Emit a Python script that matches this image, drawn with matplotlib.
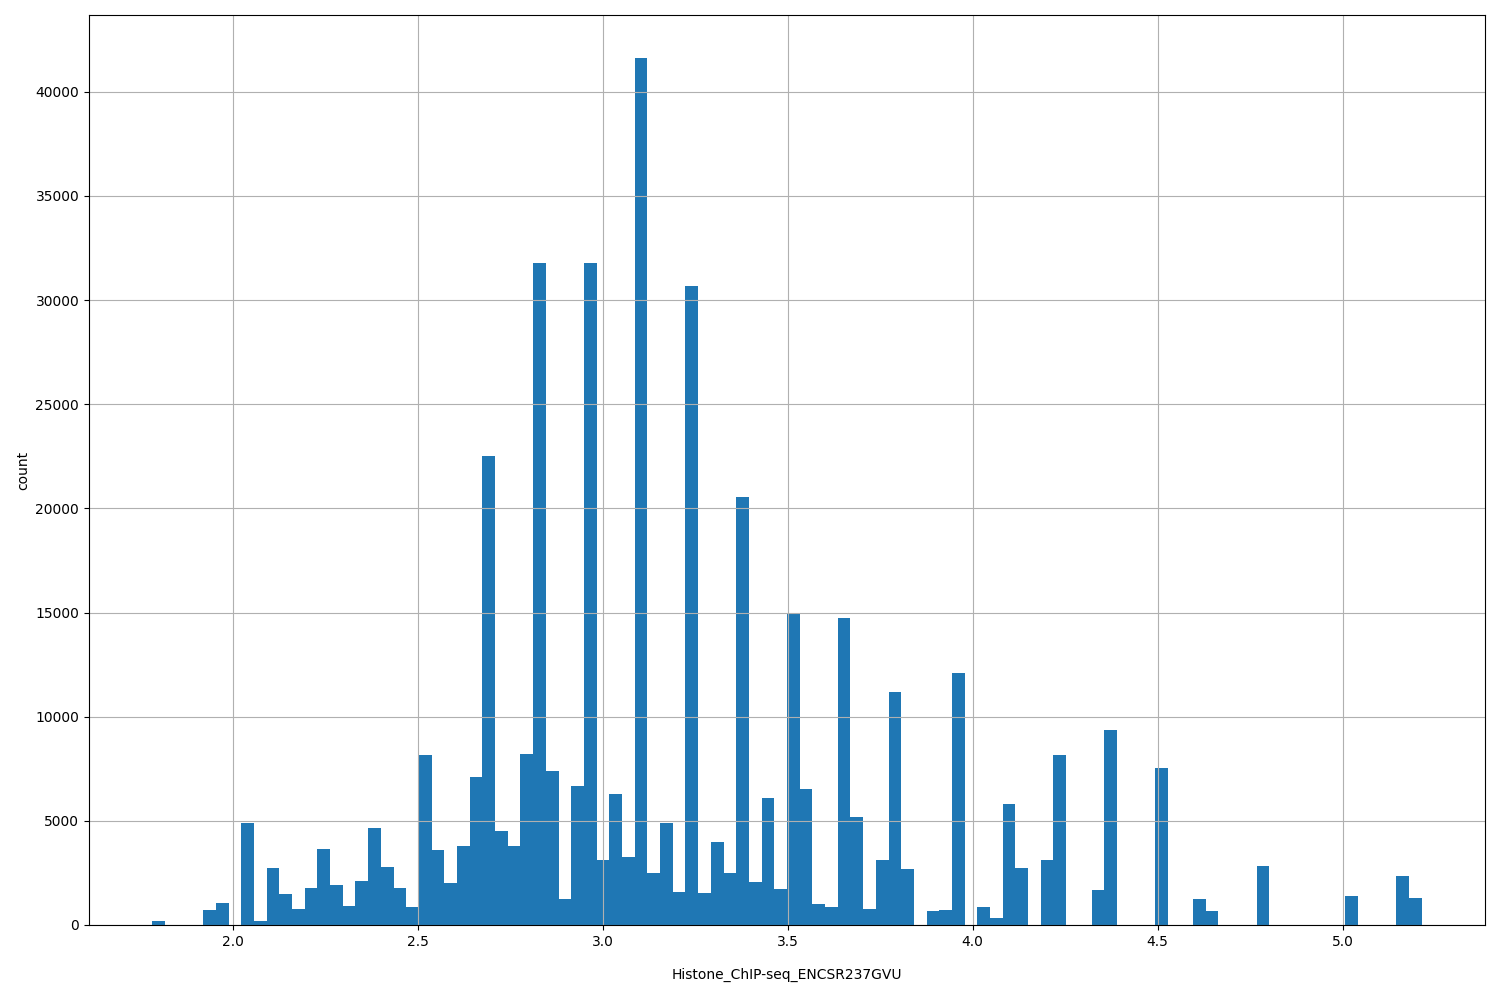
import numpy as np
import matplotlib
matplotlib.use("Agg")
import matplotlib.pyplot as plt

# histogram of Histone ChIP-seq values, 100 bins
x_min = 1.783
x_max = 5.213
counts = [
    200, 0, 0, 0, 700, 1050, 0, 4900, 200, 2750,
    1500, 750, 1800, 3650, 1900, 900, 2100, 4650, 2800, 1800,
    850, 8150, 3600, 2000, 3800, 7100, 22500, 4500, 3800, 8200,
    31800, 7400, 1250, 6650, 31800, 3100, 6300, 3250, 41600, 2500,
    4900, 1600, 30650, 1550, 4000, 2500, 20550, 2050, 6100, 1750,
    14950, 6550, 1000, 850, 14750, 5200, 750, 3100, 11200, 2700,
    0, 650, 700, 12100, 0, 850, 350, 5800, 2750, 0,
    3100, 8150, 0, 0, 1700, 9350, 0, 0, 0, 7550,
    0, 0, 1250, 650, 0, 0, 0, 2850, 0, 0,
    0, 0, 0, 0, 1400, 0, 0, 0, 2350, 1300,
]
xlabel = "Histone_ChIP-seq_ENCSR237GVU"
ylabel = "count"

edges = np.linspace(x_min, x_max, len(counts) + 1)
centers = (edges[:-1] + edges[1:]) / 2

fig, ax = plt.subplots(figsize=(15, 10), dpi=100)
ax.hist(centers, bins=edges, weights=counts, color="#1f77b4")
# grid drawn on top of the bars, like pandas' hist
ax.grid(True, color="#b0b0b0")
ax.set_xlabel(xlabel, labelpad=14)
ax.set_ylabel(ylabel)
plt.subplots_adjust(left=0.0593, right=0.99, top=0.985, bottom=0.075)
plt.savefig("out.png")
